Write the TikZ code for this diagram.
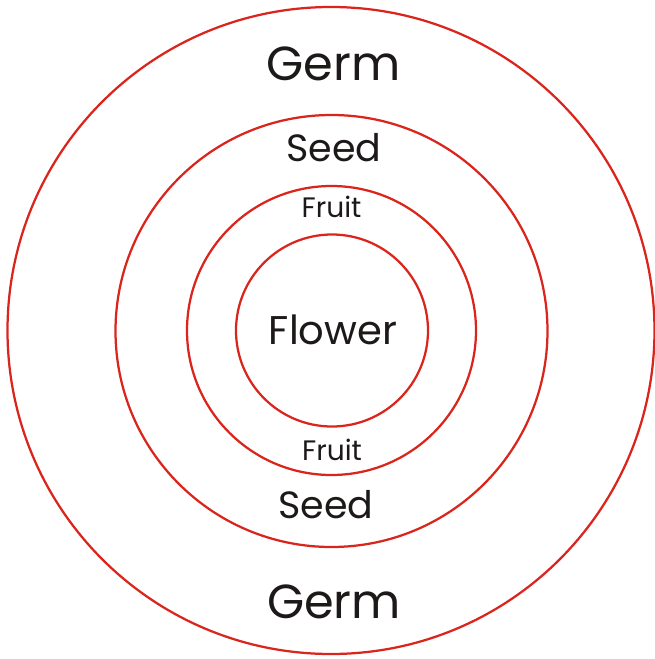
\documentclass[tikz,border=0pt]{standalone}
\usepackage{fontspec}
\setmainfont{Poppins}
\usepackage{tikz}
\definecolor{ringred}{RGB}{218,37,29}
\definecolor{inkblack}{RGB}{30,25,25}

\begin{document}
\begin{tikzpicture}[
      x=0.025cm, y=-0.025cm,
      ring/.style={draw=ringred, line width=1.6pt},
      lbl/.style={anchor=base, inner sep=0pt, text=inkblack},
      bigtxt/.style={lbl, font=\fontsize{34}{40}\selectfont},
      midtxt/.style={lbl, font=\fontsize{27}{30}\selectfont},
      smalltxt/.style={lbl, font=\fontsize{20}{22}\selectfont},
      coretxt/.style={lbl, font=\fontsize{28.5}{33}\selectfont}
    ]
    \useasboundingbox (0,0) rectangle (655,659);
    % rings, outside in
    \draw[ring] (331,330.5) circle[radius=323.5];
    \draw[ring] (331.5,331) circle[radius=216];
    \draw[ring] (331.5,330.5) circle[radius=144.5];
    \draw[ring] (332,330.5) circle[radius=96];
    % labels
    \node[bigtxt] (germtop) at (333.5,80) {Germ};
    \node[midtxt] (seedtop) at (334,161) {Seed};
    \node[smalltxt] (fruittop) at (331.5,217.5) {Fruit};
    \node[coretxt] (flower) at (333,344) {Flower};
    \node[smalltxt] (fruitbot) at (332,460) {Fruit};
    \node[midtxt] (seedbot) at (326,518) {Seed};
    \node[bigtxt] (germbot) at (334,618) {Germ};
  \end{tikzpicture}
\end{document}
